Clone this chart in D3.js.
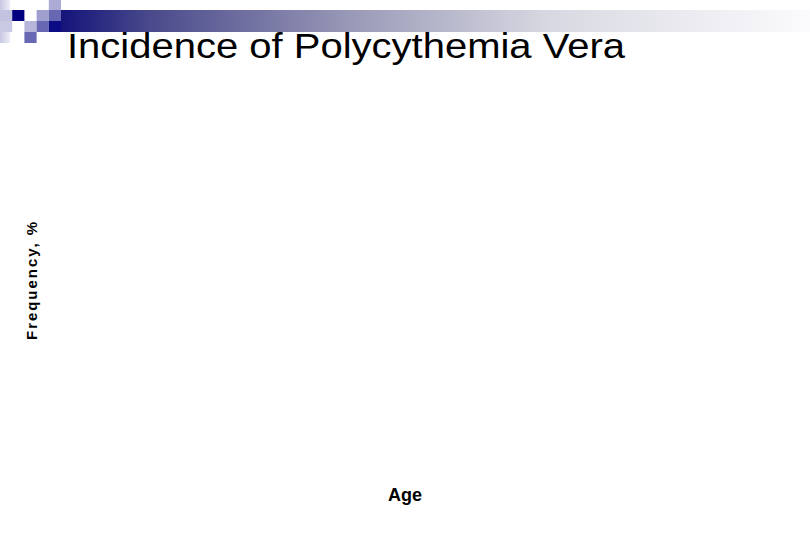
<!DOCTYPE html>
<html>
<head>
<meta charset="utf-8">
<script src="https://cdn.jsdelivr.net/npm/d3@7"></script>
<style>
  body { margin: 0; background: #fff; }
  svg text { font-family: "Liberation Sans", Arial, sans-serif; }
</style>
</head>
<body>
<div id="chart"></div>
<script>
// chart texts
var title = "Incidence of Polycythemia Vera"
var x_label = "Age"
var y_label = "Frequency, %"

// no series were plotted on the slide
var ages = []
var frequency = []

// header ornament: grid column, grid row, shade (0 = light .. 1 = dark)
var deco_cols = [0, 1, 2, 3, 4]
var deco_rows = [0, 1, 2, 3]
var deco_cells = [
    [0, 1, 0.15], [0, 2, 0.12], [1, 1, 1.0], [3, 1, 0.3],
    [4, 0, 0.25], [4, 1, 0.55], [2, 2, 0.2], [3, 2, 0.55],
    [4, 2, 0.95], [2, 3, 0.55]
]

var width = 810, height = 540

var svg = d3.select("#chart")
    .append("svg")
    .attr("width", width)
    .attr("height", height)

var defs = svg.append("defs")
var grad = defs.append("linearGradient")
    .attr("id", "barGrad")
    .attr("x1", "0%").attr("x2", "100%")
grad.append("stop").attr("offset", "0%").attr("stop-color", "#14147a")
grad.append("stop").attr("offset", "12%").attr("stop-color", "#4a4a8c")
grad.append("stop").attr("offset", "39%").attr("stop-color", "#9a9ab8")
grad.append("stop").attr("offset", "65%").attr("stop-color", "#d8d8e2")
grad.append("stop").attr("offset", "100%").attr("stop-color", "#fbfbfd")

var leftGrad = defs.append("linearGradient")
    .attr("id", "leftGrad")
    .attr("x1", "0%").attr("x2", "100%")
leftGrad.append("stop").attr("offset", "0%").attr("stop-color", "#c8c8e4")
leftGrad.append("stop").attr("offset", "100%").attr("stop-color", "#eeeef8")

// ornament scales
var gx = d3.scaleBand().domain(deco_cols).range([0, 61]).padding(0)
var gy = d3.scaleBand().domain(deco_rows).range([-1, 43]).padding(0)
var shade = d3.scaleLinear().domain([0, 1]).range(["#e4e4f2", "#000080"])

// header bar
svg.append("rect")
    .attr("x", gx(4) + gx.bandwidth())
    .attr("y", gy(1))
    .attr("width", width - gx(4) - gx.bandwidth())
    .attr("height", gy.bandwidth() * 2)
    .attr("fill", "url(#barGrad)")

svg.append("rect")
    .attr("x", 0)
    .attr("y", gy(0))
    .attr("width", gx.bandwidth() - 2)
    .attr("height", gy.bandwidth() * 4)
    .attr("fill", "url(#leftGrad)")

svg.append("g")
    .selectAll("rect")
    .data(deco_cells)
    .enter()
    .append("rect")
    .attr("x", function (d) { return gx(d[0]) })
    .attr("y", function (d) { return gy(d[1]) })
    .attr("width", gx.bandwidth())
    .attr("height", gy.bandwidth())
    .attr("fill", function (d) { return shade(d[2]) })

// plot area (empty)
var margin = {top: 90, right: 40, bottom: 60, left: 60}
var x = d3.scaleLinear().domain([0, 1]).range([margin.left, width - margin.right])
var y = d3.scaleLinear().domain([0, 1]).range([height - margin.bottom, margin.top])

svg.append("g")
    .selectAll("circle")
    .data(ages.map(function (a, i) { return [a, frequency[i]] }))
    .enter()
    .append("circle")
    .attr("cx", function (d) { return x(d[0]) })
    .attr("cy", function (d) { return y(d[1]) })
    .attr("r", 3)

// title
svg.append("text")
    .attr("x", 67)
    .attr("y", 58)
    .attr("font-size", 35)
    .attr("textLength", 558)
    .attr("lengthAdjust", "spacingAndGlyphs")
    .attr("fill", "#000")
    .text(title)

// axis labels
svg.append("text")
    .attr("text-anchor", "middle")
    .attr("x", 405)
    .attr("y", 501)
    .attr("font-size", 18)
    .attr("font-weight", "bold")
    .text(x_label)

svg.append("text")
    .attr("text-anchor", "middle")
    .attr("transform", "translate(37,281) rotate(-90)")
    .attr("font-size", 15)
    .attr("font-weight", "bold")
    .attr("textLength", 118)
    .attr("lengthAdjust", "spacing")
    .text(y_label)
</script>
</body>
</html>
